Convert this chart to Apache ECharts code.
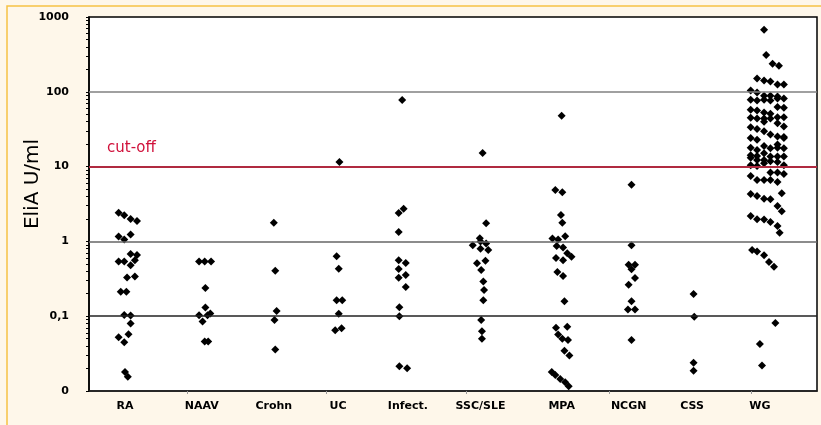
<!DOCTYPE html>
<html>
<head>
<meta charset="utf-8">
<script src="https://cdn.jsdelivr.net/npm/echarts@6/dist/echarts.min.js"></script>
<style>
  html, body { margin: 0; padding: 0; background: #fef7ea; }
  #chart { width: 821px; height: 425px; }
</style>
</head>
<body>
<div id="chart"></div>
<script>
// categories and where their labels sit on the x axis (category units)
const categories = ['RA', 'NAAV', 'Crohn', 'UC', 'Infect.', 'SSC/SLE', 'MPA', 'NCGN', 'CSS', 'WG']
const labelPos = [0, 1.09, 2.11, 3.02, 4.01, 5.04, 6.19, 7.14, 8.04, 9]
const xTickPos = [0.88, 2.86, 4.84, 6.86, 8.88]
const yMinorTicks = [0.01, 0.02, 0.03, 0.04, 0.05, 0.06, 0.07, 0.08, 0.09,
  0.1, 0.2, 0.3, 0.4, 0.5, 0.6, 0.7, 0.8, 0.9,
  1, 2, 3, 4, 5, 6, 7, 8, 9,
  10, 20, 30, 40, 50, 60, 70, 80, 90,
  100, 200, 300, 400, 500, 600, 700, 800, 900, 1000]
const cutoff = 10

// [jitter, EliA U/ml]
const raData = [[-0.09, 2.42], [-0.01, 2.23], [0.08, 2.0], [0.17, 1.88], [-0.09, 1.16], [-0.01, 1.06], [0.08, 1.24],
  [-0.09, 0.54], [-0.01, 0.54], [0.08, 0.68], [0.17, 0.66], [0.14, 0.56], [0.08, 0.48], [0.03, 0.33], [0.14, 0.34],
  [-0.06, 0.213], [0.02, 0.213], [-0.01, 0.104], [0.08, 0.102], [0.08, 0.080], [-0.09, 0.0525], [-0.01, 0.045],
  [0.05, 0.0575], [0.0, 0.0179], [0.04, 0.0155]]
const naavData = [[-0.04, 0.54], [0.04, 0.54], [0.13, 0.54], [0.05, 0.238], [0.05, 0.131], [-0.04, 0.103],
  [0.12, 0.109], [0.08, 0.103], [0.01, 0.085], [0.04, 0.046], [0.09, 0.046]]
const crohnData = [[0.0, 1.78], [0.02, 0.405], [0.04, 0.117], [0.01, 0.089], [0.02, 0.036]]
const ucData = [[0.02, 11.5], [-0.02, 0.632], [0.01, 0.431], [-0.02, 0.164], [0.06, 0.164], [0.01, 0.108],
  [-0.04, 0.065], [0.05, 0.069]]
const infectData = [[-0.08, 77.4], [-0.13, 2.40], [-0.06, 2.74], [-0.13, 1.34], [-0.13, 0.558], [-0.03, 0.514],
  [-0.13, 0.427], [-0.03, 0.355], [-0.13, 0.327], [-0.03, 0.245], [-0.12, 0.132], [-0.12, 0.100],
  [-0.12, 0.0215], [-0.01, 0.0202]]
const sscData = [[0.03, 15.2], [0.08, 1.75], [-0.01, 1.10], [0.0, 1.0], [-0.11, 0.89], [0.08, 0.94], [0.0, 0.80],
  [0.11, 0.77], [-0.05, 0.51], [0.07, 0.55], [0.01, 0.414], [0.04, 0.292], [0.05, 0.224], [0.04, 0.164],
  [0.01, 0.089], [0.02, 0.063], [0.02, 0.050]]
const mpaData = [[0.0, 47.7], [-0.09, 4.88], [0.01, 4.54], [-0.01, 2.26], [0.01, 1.78], [-0.13, 1.09], [-0.05, 1.06],
  [0.05, 1.17], [-0.07, 0.867], [0.02, 0.83], [0.08, 0.693], [0.14, 0.624], [-0.08, 0.60], [0.02, 0.56],
  [-0.06, 0.389], [0.02, 0.344], [0.04, 0.159], [-0.08, 0.070], [0.08, 0.072], [-0.05, 0.057], [0.01, 0.050],
  [0.09, 0.048], [0.04, 0.0344], [0.11, 0.0299], [-0.14, 0.0179], [-0.09, 0.0164], [-0.02, 0.0145],
  [0.05, 0.0131], [0.10, 0.0116]]
const ncgnData = [[0.04, 5.74], [0.04, 0.887], [0.0, 0.488], [0.09, 0.488], [0.04, 0.424], [0.09, 0.324],
  [0.0, 0.263], [0.04, 0.158], [-0.01, 0.123], [0.09, 0.123], [0.04, 0.048]]
const cssData = [[0.02, 0.198], [0.03, 0.0985], [0.02, 0.0238], [0.02, 0.0186]]
const wgData = [[0.06, 676], [0.09, 310], [0.18, 237], [0.27, 223],
  [-0.04, 151], [0.06, 142], [0.15, 137], [0.25, 125], [0.34, 125],
  [-0.13, 104], [-0.04, 98], [0.06, 88.4], [0.15, 88.4], [0.25, 86.5],
  [-0.13, 78.1], [-0.04, 76.6], [0.06, 78.1], [0.15, 76.6], [0.25, 81.3], [0.34, 81.3],
  [0.25, 62.4], [0.34, 61.1], [-0.13, 57.4], [-0.04, 56.1], [0.06, 52.8], [0.15, 50.8],
  [-0.13, 44.9], [-0.04, 43.9], [0.06, 43.9], [0.15, 43.9], [0.25, 45.8], [0.34, 45.8],
  [0.06, 39.7], [0.25, 38.1], [0.34, 34.3],
  [-0.13, 33.7], [-0.04, 31.7], [0.06, 29.8], [0.15, 26.8], [0.25, 25.2], [0.34, 24.9],
  [-0.13, 24.2], [-0.04, 22.8], [0.34, 24.2], [0.25, 19.7],
  [-0.13, 17.8], [-0.04, 16.7], [0.06, 18.9], [0.15, 17.6], [0.25, 17.8], [0.34, 17.6],
  [-0.13, 14.2], [-0.04, 13.9], [0.06, 15.1], [0.15, 13.6], [0.25, 13.6], [0.34, 13.6],
  [-0.13, 13.1], [-0.04, 12.3], [0.06, 12.3], [0.15, 11.8], [0.25, 11.5], [0.34, 10.4],
  [-0.13, 10.4], [-0.04, 10.2], [0.06, 11.1],
  [0.15, 8.31], [0.25, 8.31], [0.34, 7.97],
  [-0.13, 7.51], [-0.04, 6.64], [0.06, 6.64], [0.15, 6.64], [0.25, 6.24],
  [-0.13, 4.31], [-0.04, 4.06], [0.06, 3.73], [0.15, 3.67], [0.31, 4.40], [0.25, 2.98], [0.31, 2.53],
  [-0.13, 2.19], [-0.04, 1.98], [0.06, 1.96], [0.15, 1.82], [0.25, 1.61], [0.28, 1.31],
  [-0.11, 0.767], [-0.04, 0.733], [0.06, 0.652], [0.13, 0.53], [0.20, 0.458],
  [0.22, 0.081], [0.0, 0.0426], [0.03, 0.0219]]

const groups = [raData, naavData, crohnData, ucData, infectData, sscData, mpaData, ncgnData, cssData, wgData]

const chart = echarts.init(document.getElementById('chart'), null, { renderer: 'canvas' })

const labelFor = (v) => {
  let best = 0
  labelPos.forEach((p, i) => { if (Math.abs(p - v) < Math.abs(labelPos[best] - v)) best = i })
  return categories[best]
}

const series = groups.map((g, i) => ({
  name: categories[i],
  type: 'scatter',
  symbol: 'diamond',
  symbolSize: 8,
  itemStyle: { color: '#000', opacity: 1 },
  silent: true,
  data: g.map(p => [labelPos[i] + p[0], p[1]])
}))

// reference lines, the red one is the cut-off
series[0].markLine = {
  silent: true,
  symbol: 'none',
  label: { show: false },
  animation: false,
  data: [
    { yAxis: 100, lineStyle: { color: '#808080', width: 1.5, type: 'solid' } },
    { yAxis: cutoff, lineStyle: { color: '#b02a40', width: 2, type: 'solid' } },
    { yAxis: 1, lineStyle: { color: '#666', width: 1.5, type: 'solid' } },
    { yAxis: 0.1, lineStyle: { color: '#222', width: 1.5, type: 'solid' } }
  ]
}

const option = {
  backgroundColor: '#fef7ea',
  animation: false,
  grid: {
    left: 89, top: 17, right: 4, bottom: 34,
    show: true, backgroundColor: '#fff', borderColor: '#000', borderWidth: 1.5
  },
  xAxis: {
    type: 'value',
    min: -0.51,
    max: 9.81,
    splitLine: { show: false },
    axisLine: { show: true, onZero: false, lineStyle: { color: '#222', width: 1.5 } },
    axisTick: { show: true, length: 3, customValues: xTickPos, lineStyle: { color: '#999' } },
    axisLabel: {
      customValues: labelPos,
      formatter: labelFor,
      margin: 10,
      color: '#000',
      fontFamily: 'DejaVu Sans',
      fontWeight: 'bold',
      fontSize: 11
    }
  },
  yAxis: {
    type: 'log',
    logBase: 10,
    min: 0.01,
    max: 1000,
    splitLine: { show: false },
    axisLine: { show: true, onZero: false, lineStyle: { color: '#000', width: 1.5 } },
    axisTick: { show: true, inside: false, length: 3, customValues: yMinorTicks, lineStyle: { color: '#000' } },
    axisLabel: {
      margin: 20,
      color: '#000',
      fontFamily: 'DejaVu Sans',
      fontWeight: 'bold',
      fontSize: 11,
      formatter: (v) => {
        const e = Math.round(Math.log10(v))
        if (e <= -2) return '0'
        if (e === -1) return '0,1'
        return String(Math.pow(10, e))
      }
    }
  },
  graphic: [
    {
      type: 'rect', z: -1,
      shape: { x: 7, y: 6, width: 900, height: 500 },
      style: { fill: null, stroke: '#f6c244', lineWidth: 1.5 }
    },
    {
      type: 'text', x: 33, y: 184, rotation: Math.PI / 2,
      style: {
        text: 'EliA U/ml', fill: '#000', font: '20px "DejaVu Sans"',
        align: 'center', verticalAlign: 'middle'
      }
    },
    {
      type: 'text', x: 107, y: 148,
      style: {
        text: 'cut-off', fill: '#d0103a', font: '15px "DejaVu Sans"',
        align: 'left', verticalAlign: 'middle'
      }
    }
  ],
  series
}

chart.setOption(option)
</script>
</body>
</html>
